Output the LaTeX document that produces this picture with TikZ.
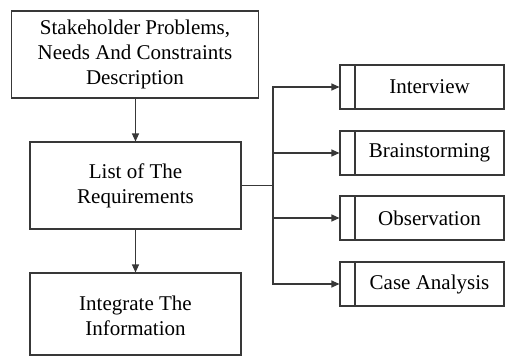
\documentclass[tikz,border=0pt]{standalone}
\usepackage{fontspec}
\setmainfont{Liberation Serif}
\usetikzlibrary{arrows.meta}
\begin{document}
\begin{tikzpicture}[x=1pt,y=-1pt,
  line width=1.1pt,
  every node/.style={font=\fontsize{21}{25}\selectfont, text=black},
  box/.style={draw=black!78, rectangle, align=center, inner sep=0pt},
  proc/.style={draw=black!78, rectangle, inner sep=0pt, minimum width=164pt, minimum height=44pt,
    path picture={\draw[black!78,line width=1.1pt] ([xshift=15pt]path picture bounding box.north west) -- ([xshift=15pt]path picture bounding box.south west);}},
  arr/.style={draw=black!78, -{Triangle[length=8pt,width=7pt]}},
  ln/.style={draw=black!78}]
\useasboundingbox (0,0) rectangle (506,356);
\node[box, minimum width=247pt, minimum height=87pt] (top) at (135,54.5) {Stakeholder Problems,\\Needs And Constraints\\Description};
\node[box, minimum width=211pt, minimum height=87pt] (list) at (135.5,185.5) {List of The\\Requirements};
\node[box, minimum width=211pt, minimum height=82pt] (int) at (135.5,314) {};
\node (inttext) at (135.5,316) [align=center] {Integrate The\\Information};
\node[proc] (iv) at (422,87) {\hspace*{15pt}Interview};
\node[proc] (bs) at (422,153) {\hspace*{15pt}Brainstorming};
\node[proc] (ob) at (422,218) {\hspace*{15pt}Observation};
\node[proc] (ca) at (422,284) {\hspace*{15pt}Case Analysis};
\draw[arr] (top.south -| list.north) -- (list.north);
\draw[arr] (list.south) -- (int.north);
\coordinate (j) at (273,185.5);
\draw[ln] (list.east) -- (j);
\draw[arr] (j) |- (iv.west);
\draw[arr] (j) |- (bs.west);
\draw[arr] (j) |- (ob.west);
\draw[arr] (j) |- (ca.west);
\end{tikzpicture}
\end{document}
